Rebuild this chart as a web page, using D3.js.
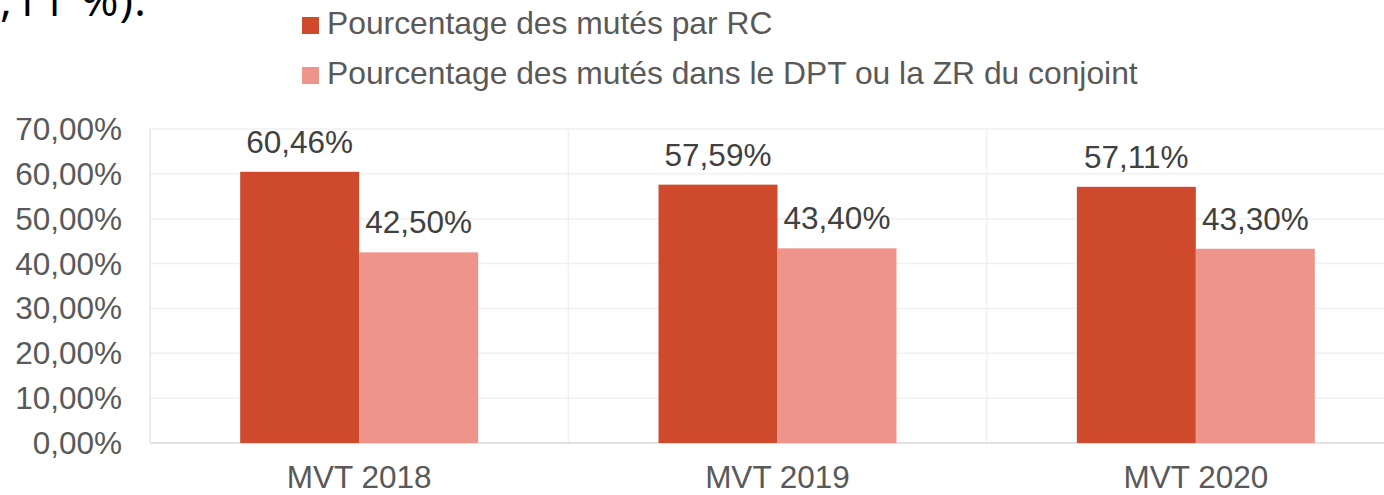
<!DOCTYPE html>
<html>
<head>
<meta charset="utf-8">
<script src="https://cdn.jsdelivr.net/npm/d3@7"></script>
<style>
  body { margin: 0; background: #fff; }
  svg { display: block; font-family: "Liberation Sans", Arial, sans-serif; }
</style>
</head>
<body>
<div id="chart"></div>
<script>
var categories = ["MVT 2018", "MVT 2019", "MVT 2020"];
var seriesNames = ["Pourcentage des mutés par RC", "Pourcentage des mutés dans le DPT ou la ZR du conjoint"];
var rcValues = [60.46, 57.59, 57.11];
var dptValues = [42.50, 43.40, 43.30];
var yTicks = [0, 10, 20, 30, 40, 50, 60, 70];
var colors = ["#cf4a2c", "#ef948a"];

var chart = {
    width: 1384,
    height: 495,
    left: 150,
    right: 1405,
    top: 129,
    bottom: 443,
    font: 31.5
};

function fmt(v) {
    return v.toFixed(2).replace(".", ",") + "%";
}

var svg = d3.select("#chart")
    .append("svg")
    .attr("width", chart.width)
    .attr("height", chart.height);

// cropped sentence from the surrounding document
svg.append("text")
    .attr("x", 0)
    .attr("y", 16)
    .attr("font-family", "Open Sans, sans-serif")
    .attr("font-size", 46)
    .attr("letter-spacing", 1)
    .attr("fill", "#000")
    .text(",11 %).");

var x = d3.scaleBand()
    .domain(categories)
    .range([chart.left, chart.right])
    .padding(0);

var x1 = d3.scaleBand()
    .domain([0, 1])
    .range([0, x.bandwidth()])
    .paddingInner(0)
    .paddingOuter(0.758);

var y = d3.scaleLinear()
    .domain([0, 70])
    .range([chart.bottom, chart.top]);

// horizontal grid
svg.append("g").selectAll("line")
    .data(yTicks.slice(1))
    .enter()
    .append("line")
    .attr("x1", chart.left)
    .attr("x2", chart.right)
    .attr("y1", function (d) { return y(d); })
    .attr("y2", function (d) { return y(d); })
    .attr("stroke", "#f0f0f0")
    .attr("stroke-width", 1.5);

// vertical grid between categories
svg.append("g").selectAll("line")
    .data(categories.slice(1))
    .enter()
    .append("line")
    .attr("x1", function (d) { return x(d); })
    .attr("x2", function (d) { return x(d); })
    .attr("y1", chart.top)
    .attr("y2", chart.bottom)
    .attr("stroke", "#f0f0f0")
    .attr("stroke-width", 1.5);

// left border and base line
svg.append("line")
    .attr("x1", chart.left).attr("x2", chart.left)
    .attr("y1", chart.top).attr("y2", chart.bottom)
    .attr("stroke", "#d9d9d9").attr("stroke-width", 1);
svg.append("line")
    .attr("x1", chart.left).attr("x2", chart.right)
    .attr("y1", chart.bottom).attr("y2", chart.bottom)
    .attr("stroke", "#d9d9d9").attr("stroke-width", 1.5);

// y tick labels
svg.append("g").selectAll("text")
    .data(yTicks)
    .enter()
    .append("text")
    .attr("x", 122)
    .attr("y", function (d) { return y(d); })
    .attr("dy", "0.35em")
    .attr("text-anchor", "end")
    .attr("font-size", chart.font)
    .attr("fill", "#595959")
    .text(function (d) { return fmt(d); });

// category labels
svg.append("g").selectAll("text")
    .data(categories)
    .enter()
    .append("text")
    .attr("x", function (d) { return x(d) + x.bandwidth() / 2; })
    .attr("y", 488)
    .attr("text-anchor", "middle")
    .attr("font-size", chart.font)
    .attr("fill", "#595959")
    .text(function (d) { return d; });

var rows = [];
categories.forEach(function (c, i) {
    rows.push({ cat: c, s: 0, v: rcValues[i] });
    rows.push({ cat: c, s: 1, v: dptValues[i] });
});

// bars
svg.append("g").selectAll("rect")
    .data(rows)
    .enter()
    .append("rect")
    .attr("x", function (d) { return x(d.cat) + x1(d.s); })
    .attr("y", function (d) { return y(d.v); })
    .attr("width", x1.bandwidth())
    .attr("height", function (d) { return y(0) - y(d.v); })
    .attr("fill", function (d) { return colors[d.s]; });

// data labels
svg.append("g").selectAll("text")
    .data(rows)
    .enter()
    .append("text")
    .attr("x", function (d) { return x(d.cat) + x1(d.s) + x1.bandwidth() / 2; })
    .attr("y", function (d) { return y(d.v) - 19; })
    .attr("text-anchor", "middle")
    .attr("font-size", chart.font)
    .attr("fill", "#404040")
    .text(function (d) { return fmt(d.v); });

// legend
var legend = svg.append("g").selectAll("g")
    .data(seriesNames)
    .enter()
    .append("g")
    .attr("transform", function (d, i) { return "translate(302," + (17 + i * 50) + ")"; });

legend.append("rect")
    .attr("width", 17)
    .attr("height", 17)
    .attr("fill", function (d, i) { return colors[i]; });

legend.append("text")
    .attr("x", 25)
    .attr("y", 16.5)
    .attr("font-size", 31.8)
    .attr("fill", "#595959")
    .text(function (d) { return d; });
</script>
</body>
</html>
